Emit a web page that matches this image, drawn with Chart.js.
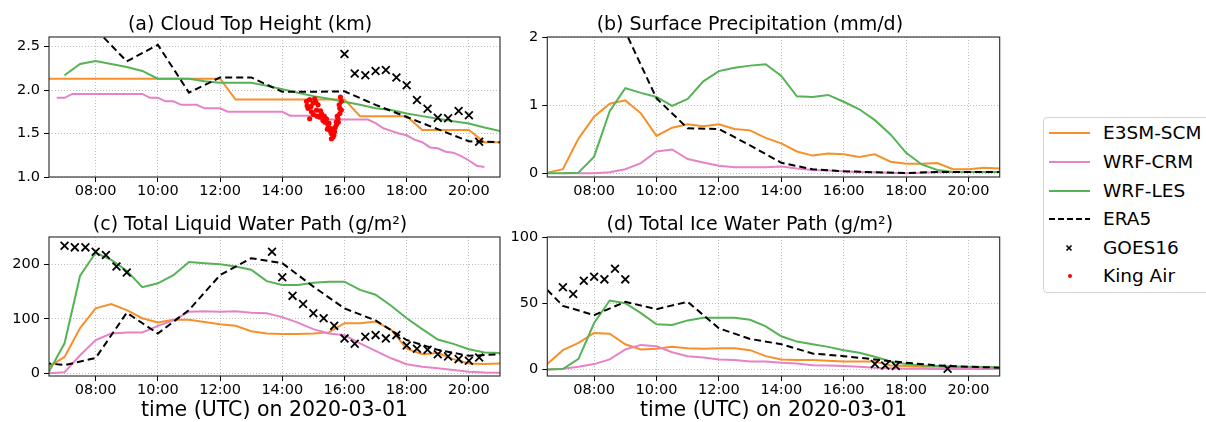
<!DOCTYPE html>
<html><head><meta charset="utf-8">
<script src="https://cdn.jsdelivr.net/npm/chart.js@4.4.0/dist/chart.umd.min.js"></script>
<style>
html,body{margin:0;padding:0;background:#fff;width:1206px;height:422px;overflow:hidden;font-family:"DejaVu Sans",sans-serif;}
canvas{position:absolute;}
#legend{position:absolute;left:1043px;top:117px;width:190px;height:176px;border:1px solid #d4d4d4;border-radius:4px;box-sizing:border-box;background:#fff;}
.item{position:absolute;left:0;height:22px;width:190px;}
.item svg{position:absolute;left:5px;top:0;}
.item span{position:absolute;left:59px;top:0;line-height:22px;font-size:18.5px;color:#000;white-space:nowrap;}
</style></head>
<body>
<canvas id="ca" width="549" height="200" style="left:0;top:0"></canvas>
<canvas id="cb" width="547" height="200" style="left:500px;top:0"></canvas>
<canvas id="cc" width="549" height="222" style="left:0;top:200px"></canvas>
<canvas id="cd" width="547" height="222" style="left:500px;top:200px"></canvas>
<div id="legend"></div>
<script>
// ---------- DATA ----------
const xTickVals = [8, 10, 12, 14, 16, 18, 20];
const xTickLabels = ['08:00', '10:00', '12:00', '14:00', '16:00', '18:00', '20:00'];

const tHalf = [6.5,7,7.5,8,8.5,9,9.5,10,10.5,11,11.5,12,12.5,13,13.5,14,14.5,15,15.5,16,16.5,17,17.5,18,18.5,19,19.5,20,20.5,21];
const tHour = [6,7,8,9,10,11,12,13,14,15,16,17,18,19,20,21];
const tQuarterCRM = [6.75,7,7.25,7.5,7.75,8,8.25,8.5,8.75,9,9.25,9.5,9.75,10,10.25,10.5,10.75,11,11.25,11.5,11.75,12,12.25,12.5,12.75,13,13.25,13.5,13.75,14,14.25,14.5,14.75,15,15.25,15.5,15.75,16,16.25,16.5,16.75,17,17.25,17.5,17.75,18,18.25,18.5,18.75,19,19.25,19.5,19.75,20,20.25,20.5];

// (a) Cloud Top Height (km)
const e3smCTH = [2.13,2.13,2.13,2.13,2.13,2.13,2.13,2.13,2.13,2.13,2.13,2.13,1.89,1.89,1.89,1.89,1.89,1.89,1.89,1.89,1.70,1.70,1.70,1.70,1.54,1.54,1.54,1.54,1.40,1.40];
const crmCTH = [1.91,1.91,1.955,1.955,1.955,1.955,1.955,1.955,1.955,1.955,1.955,1.955,1.91,1.91,1.87,1.87,1.83,1.83,1.83,1.79,1.79,1.79,1.75,1.75,1.75,1.75,1.75,1.75,1.75,1.75,1.705,1.705,1.705,1.705,1.66,1.66,1.66,1.66,1.66,1.66,1.66,1.62,1.56,1.53,1.50,1.48,1.43,1.40,1.34,1.33,1.29,1.28,1.24,1.19,1.13,1.115];
const lesCTH = [null,2.17,2.30,2.335,2.30,2.265,2.22,2.13,2.13,2.13,2.10,2.085,2.085,2.085,2.05,2.01,1.97,1.93,1.90,1.865,1.83,1.79,1.77,1.73,1.70,1.67,1.64,1.615,1.57,1.53];
const era5CTH = [3.2,3.0,2.70,2.33,2.52,1.97,2.145,2.145,1.98,1.98,1.985,1.83,1.69,1.55,1.41,1.40];
const goesCTHt = [16.0,16.33,16.67,17.0,17.33,17.67,18.0,18.33,18.67,19.0,19.33,19.67,20.0,20.33];
const goesCTH = [2.415,2.19,2.17,2.22,2.23,2.145,2.055,1.885,1.785,1.68,1.675,1.76,1.71,1.405];
const kingAirT = [14.78,14.83,14.88,14.94,14.99,15.04,15.10,15.15,15.20,14.88,15.26,15.31,15.37,15.42,15.47,15.53,15.58,15.63,15.58,15.68,15.74,15.79,15.74,15.85,15.85,15.90,15.87,15.83,14.80,14.92,15.00,15.08,15.12,15.23,15.35,15.45,15.50,15.55,15.62,15.66,15.70,15.77,15.80,15.90];
const kingAirCTH = [1.87,1.79,1.89,1.75,1.85,1.90,1.77,1.83,1.69,1.67,1.73,1.65,1.63,1.67,1.60,1.56,1.50,1.46,1.44,1.52,1.60,1.67,1.63,1.73,1.79,1.87,1.92,1.83,1.82,1.81,1.72,1.86,1.70,1.76,1.70,1.55,1.62,1.53,1.55,1.48,1.57,1.70,1.63,1.77];

// (b) Surface Precipitation (mm/d)
const e3smPR = [0.01,0.06,0.51,0.83,1.02,1.07,0.88,0.55,0.67,0.72,0.69,0.72,0.65,0.63,0.52,0.44,0.32,0.26,0.29,0.28,0.24,0.28,0.17,0.14,0.14,0.15,0.06,0.06,0.08,0.07];
const crmPR = [null,0.0,0.0,0.0,0.015,0.06,0.15,0.32,0.35,0.21,0.16,0.11,0.09,0.09,0.09,0.10,0.07,0.05,0.04,0.03,0.02,0.015,0.01,0.0,0.01,0.02,0.02,0.02,0.02,0.02];
const lesPR = [0.0,0.0,0.01,0.245,0.91,1.25,1.18,1.12,0.99,1.09,1.35,1.50,1.55,1.58,1.60,1.43,1.13,1.12,1.15,1.05,0.94,0.78,0.57,0.30,0.13,0.05,0.02,0.02,0.02,0.02];
const era5PR = [4.5,4.0,3.2,2.08,1.10,0.66,0.65,0.41,0.155,0.06,0.03,0.015,0.005,0.02,0.02,0.02];

// (c) Total Liquid Water Path (g/m2)
const e3smLWP = [12,30,83,119,127,116,101,93,98,98,94,90,87,77,73,72,72,73,75,92,92,95,80,45,35,37,26,18,17,18];
const crmLWP = [0,2,33,61,73,75,75,87,97,113,114,113,114,111,110,103,93,81,73,70,55,41,27.5,16.5,12,9,6,3,1.5,1];
const lesLWP = [3,55,179,221,208,188,158,165,180,204,202,200,196,190,169,162,162,166,168,168,153,144,124,101,81,62,54,44,38,37];
const era5LWP = [21,15,28,111,73,116,180,211,202,159,119,97,61,43,32,35];
const goesLWPt = [7.0,7.33,7.67,8.0,8.33,8.67,9.0,13.67,14.0,14.33,14.67,15.0,15.33,15.67,16.0,16.33,16.67,17.0,17.33,17.67,18.0,18.33,18.67,19.0,19.33,19.67,20.0,20.33];
const goesLWP = [234,231,231,223,217,196,185,223,176,142,127,110,101,87,64,54,67,70,64,70,51,45,43,35,31,26,23,29];

// (d) Total Ice Water Path (g/m2)
const e3smIWP = [4,14.5,20,27.5,27,19,15,15.5,17,16,15.5,16,16,14.5,10,7.5,7,7,6.5,6,6,6,3,2.5,2,2,1.8,1.5,1.5,1.5];
const crmIWP = [0,0.5,2,4,7.5,15,18.5,17.5,13,10,9,7.5,7,6,6,5,4.5,3.2,3,2.5,2,1.2,0.8,0.5,0.4,0.3,0.3,0.3,0.3,0.3];
const lesIWP = [0,0.3,8,35,52,50,42.5,34,33.5,37,39,39,39,37.5,32.5,25,21,19,17,14.5,12.5,9.5,6,4,3,2.5,2.2,2,1.8,1.5];
const era5IWP = [72,48,41,51,45.5,51,31,23,19,12,10,7.5,5,3,2,1.3];
const goesIWPt = [7.0,7.33,7.67,8.0,8.33,8.67,9.0,17.0,17.33,17.67,19.33];
const goesIWP = [62,57,67,70,68,76,68,4,3,2.5,0.5];

// y ticks per panel
const yTicksA = [1.0, 1.5, 2.0, 2.5];   const yLabelsA = ['1.0', '1.5', '2.0', '2.5'];
const yTicksB = [0, 1, 2];              const yLabelsB = ['0', '1', '2'];
const yTicksC = [0, 100, 200];          const yLabelsC = ['0', '100', '200'];
const yTicksD = [0, 50, 100];           const yLabelsD = ['0', '50', '100'];

const seriesNames = ['E3SM-SCM', 'WRF-CRM', 'WRF-LES', 'ERA5', 'GOES16', 'King Air'];

// ---------- STYLE ----------
const FONT = '"DejaVu Sans", sans-serif';
const COL = {e3sm: '#f7902a', crm: '#e683c6', les: '#55b355', era5: '#000000', goes: '#000000', king: '#ff0000'};

function pts(t, v) {
  const out = [];
  for (let i = 0; i < t.length; i++) if (v[i] !== null && v[i] !== undefined) out.push({x: t[i], y: v[i]});
  return out;
}
function lineDS(label, data, color, order, dash) {
  return {label, data, borderColor: color, backgroundColor: color, borderWidth: 2, pointRadius: 0,
          tension: 0, borderDash: dash || [], borderCapStyle: 'butt', order, fill: false};
}
function goesDS(data) {
  return {label: seriesNames[4], data, showLine: false, pointStyle: 'crossRot', pointRadius: 5.5,
          borderColor: COL.goes, backgroundColor: COL.goes, borderWidth: 1.8, order: 2};
}
function kingDS(data) {
  return {label: seriesNames[5], data, showLine: false, pointStyle: 'circle', pointRadius: 2.6,
          backgroundColor: COL.king, borderColor: COL.king, borderWidth: 0, order: 1};
}

const framePlugin = {
  id: 'frame',
  afterDatasetsDraw(chart) {
    const {ctx, chartArea: a} = chart;
    ctx.save();
    ctx.strokeStyle = '#262626';
    ctx.lineWidth = 1.1;
    ctx.strokeRect(a.left, a.top, a.right - a.left, a.bottom - a.top);
    ctx.restore();
  }
};

function makePanel(p) {
  const gridCommon = {color: 'rgba(165,165,165,0.9)', lineWidth: 0.8, tickLength: 5, tickColor: '#000', tickWidth: 1};
  new Chart(document.getElementById(p.id), {
    type: 'line',
    data: {datasets: p.datasets},
    plugins: [framePlugin],
    options: {
      responsive: false, animation: false, devicePixelRatio: 1,
      layout: {padding: {left: 0, right: p.padRight, top: 0, bottom: 0}},
      plugins: {
        legend: {display: false}, tooltip: {enabled: false},
        title: {display: true, text: p.title, color: '#000',
                font: {family: FONT, size: 19, weight: 'normal', lineHeight: 1.2},
                padding: {top: 13.6, bottom: 0.6}}
      },
      scales: {
        x: {
          type: 'linear', min: 6.5, max: 21,
          afterBuildTicks: s => { s.ticks = xTickVals.map(v => ({value: v})); },
          afterFit: s => { s.height = p.xHeight; },
          ticks: {autoSkip: false, maxRotation: 0, padding: 1, color: '#000',
                  font: {family: FONT, size: 14.5}, callback: (v, i) => xTickLabels[i]},
          grid: gridCommon,
          border: {display: false, dash: [1, 2]},
          title: p.xTitle ? {display: true, text: p.xTitle, color: '#000',
                  font: {family: FONT, size: 20.5, lineHeight: 1}, padding: {top: 0, bottom: 1}} : {display: false}
        },
        y: {
          type: 'linear', min: p.yMin, max: p.yMax,
          afterBuildTicks: s => { s.ticks = p.yTicks.map(v => ({value: v})); },
          afterFit: s => { s.width = p.yWidth; },
          ticks: {autoSkip: false, padding: 4, color: '#000',
                  font: {family: FONT, size: 14.5}, callback: (v, i) => p.yLabels[i]},
          grid: gridCommon,
          border: {display: false, dash: [1, 2]}
        }
      }
    }
  });
}

const XLAB = 'time (UTC) on 2020-03-01';

makePanel({id: 'ca', title: '(a) Cloud Top Height (km)', padRight: 49, yWidth: 49, xHeight: 23,
  yMin: 1.0, yMax: 2.61, yTicks: yTicksA, yLabels: yLabelsA,
  datasets: [
    lineDS(seriesNames[0], pts(tHalf, e3smCTH), COL.e3sm, 6),
    lineDS(seriesNames[1], pts(tQuarterCRM, crmCTH), COL.crm, 5),
    lineDS(seriesNames[2], pts(tHalf, lesCTH), COL.les, 4),
    lineDS(seriesNames[3], pts(tHour, era5CTH), COL.era5, 3, [7, 4]),
    goesDS(pts(goesCTHt, goesCTH)),
    kingDS(pts(kingAirT, kingAirCTH))
  ]});

makePanel({id: 'cb', title: '(b) Surface Precipitation (mm/d)', padRight: 47.3, yWidth: 47.3, xHeight: 23,
  yMin: -0.054, yMax: 2, yTicks: yTicksB, yLabels: yLabelsB,
  datasets: [
    lineDS(seriesNames[0], pts(tHalf, e3smPR), COL.e3sm, 6),
    lineDS(seriesNames[1], pts(tHalf, crmPR), COL.crm, 5),
    lineDS(seriesNames[2], pts(tHalf, lesPR), COL.les, 4),
    lineDS(seriesNames[3], pts(tHour, era5PR), COL.era5, 3, [7, 4])
  ]});

makePanel({id: 'cc', title: '(c) Total Liquid Water Path (g/m\u00B2)', padRight: 49, yWidth: 49, xHeight: 46,
  yMin: -5, yMax: 250, yTicks: yTicksC, yLabels: yLabelsC, xTitle: XLAB,
  datasets: [
    lineDS(seriesNames[0], pts(tHalf, e3smLWP), COL.e3sm, 6),
    lineDS(seriesNames[1], pts(tHalf, crmLWP), COL.crm, 5),
    lineDS(seriesNames[2], pts(tHalf, lesLWP), COL.les, 4),
    lineDS(seriesNames[3], pts(tHour, era5LWP), COL.era5, 3, [7, 4]),
    goesDS(pts(goesLWPt, goesLWP))
  ]});

makePanel({id: 'cd', title: '(d) Total Ice Water Path (g/m\u00B2)', padRight: 47.3, yWidth: 47.3, xHeight: 46,
  yMin: -5, yMax: 100, yTicks: yTicksD, yLabels: yLabelsD, xTitle: XLAB,
  datasets: [
    lineDS(seriesNames[0], pts(tHalf, e3smIWP), COL.e3sm, 6),
    lineDS(seriesNames[1], pts(tHalf, crmIWP), COL.crm, 5),
    lineDS(seriesNames[2], pts(tHalf, lesIWP), COL.les, 4),
    lineDS(seriesNames[3], pts(tHour, era5IWP), COL.era5, 3, [7, 4]),
    goesDS(pts(goesIWPt, goesIWP))
  ]});

// ---------- LEGEND ----------
const legendRows = [133, 162, 191, 219, 248, 276];
const legendSwatch = [
  '<line x1="0" y1="11" x2="41" y2="11" stroke="' + COL.e3sm + '" stroke-width="2"/>',
  '<line x1="0" y1="11" x2="41" y2="11" stroke="' + COL.crm + '" stroke-width="2"/>',
  '<line x1="0" y1="11" x2="41" y2="11" stroke="' + COL.les + '" stroke-width="2"/>',
  '<line x1="0" y1="11" x2="41" y2="11" stroke="#000" stroke-width="2" stroke-dasharray="6,3"/>',
  '<path d="M17.5 8.5 L22.5 13.5 M22.5 8.5 L17.5 13.5" stroke="#000" stroke-width="1.6"/>',
  '<circle cx="21" cy="11" r="2" fill="#ff0000"/>'
];
const leg = document.getElementById('legend');
seriesNames.forEach((name, i) => {
  const d = document.createElement('div');
  d.className = 'item';
  d.style.top = (legendRows[i] - 118 - 11) + 'px';
  d.innerHTML = '<svg width="44" height="22">' + legendSwatch[i] + '</svg><span>' + name + '</span>';
  leg.appendChild(d);
});
</script>
</body></html>
